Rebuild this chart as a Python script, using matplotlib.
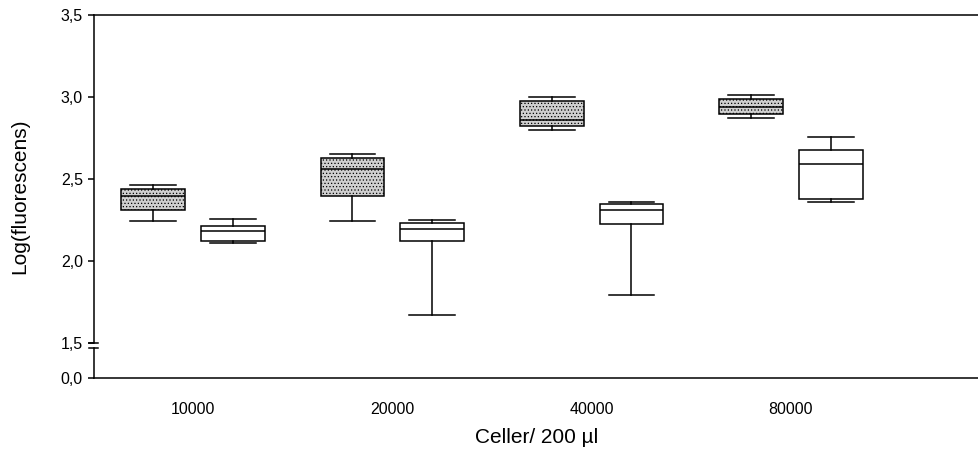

# Boxplot of log(fluorescens) per cell count, two series per group,
# with a broken y axis between 0,0 and 1,5

import matplotlib
matplotlib.use('Agg')
import matplotlib.pyplot as plt

plt.rcParams['font.family'] = ['Liberation Sans', 'DejaVu Sans']
plt.rcParams['hatch.color'] = '#b2b2b2'
plt.rcParams['hatch.linewidth'] = 0.5

# data: whisker low, Q1, median, Q3, whisker high
groups = ['10000', '20000', '40000', '80000']
grey_low = [2.246, 2.248, 2.799, 2.874]
grey_q1 = [2.313, 2.396, 2.823, 2.900]
grey_med = [2.398, 2.561, 2.860, 2.939]
grey_q3 = [2.439, 2.632, 2.976, 2.990]
grey_high = [2.463, 2.652, 3.004, 3.012]

white_low = [2.110, 1.673, 1.793, 2.360]
white_q1 = [2.126, 2.126, 2.227, 2.380]
white_med = [2.183, 2.197, 2.313, 2.595]
white_q3 = [2.217, 2.235, 2.349, 2.677]
white_high = [2.258, 2.252, 2.362, 2.760]

ytick_vals = [1.5, 2.0, 2.5, 3.0, 3.5]
ytick_labels = ['1,5', '2,0', '2,5', '3,0', '3,5']

# where 0,0 sits on the compressed part of the axis
ZERO_POS = 1.288
BREAK_LOW = 1.47
linecolor = 'black'


def make_stats(low, q1, med, q3, high):
    stats = []
    for a, b, c, d, e in zip(low, q1, med, q3, high):
        stats.append({'whislo': a, 'q1': b, 'med': c, 'q3': d, 'whishi': e, 'fliers': []})
    return stats


fig = plt.figure(figsize=(9.79, 4.54), dpi=100)
ax = fig.add_axes([94/979, 1 - 378/454, 885/979, (378 - 15.3)/454])

pos = list(range(len(groups)))
lw = 1.1

ax.bxp(make_stats(grey_low, grey_q1, grey_med, grey_q3, grey_high),
       positions=[p - 0.2 for p in pos], widths=0.32, capwidths=0.23,
       patch_artist=True, showfliers=False,
       boxprops=dict(facecolor='#cfcfcf', edgecolor=linecolor, linewidth=lw, hatch='.....'),
       medianprops=dict(color=linecolor, linewidth=lw),
       whiskerprops=dict(color=linecolor, linewidth=lw),
       capprops=dict(color=linecolor, linewidth=lw))

ax.bxp(make_stats(white_low, white_q1, white_med, white_q3, white_high),
       positions=[p + 0.2 for p in pos], widths=0.32, capwidths=0.23,
       patch_artist=True, showfliers=False,
       boxprops=dict(facecolor='white', edgecolor=linecolor, linewidth=lw),
       medianprops=dict(color=linecolor, linewidth=lw),
       whiskerprops=dict(color=linecolor, linewidth=lw),
       capprops=dict(color=linecolor, linewidth=lw))

ax.set_xlim(-0.497, 3.944)
ax.set_ylim(ZERO_POS, 3.5)

ax.set_xticks(pos)
ax.set_xticklabels(groups, fontsize=11.5)
ax.tick_params(axis='x', length=0, pad=17)

ax.set_yticks([ZERO_POS] + ytick_vals)
ax.set_yticklabels(['0,0'] + ytick_labels, fontsize=11.5)
ax.tick_params(axis='y', length=4, width=1.1, pad=4)

# spines: top and bottom full width, no right, left drawn by hand with a break
ax.spines['right'].set_visible(False)
ax.spines['left'].set_visible(False)
ax.spines['top'].set_linewidth(1.1)
ax.spines['bottom'].set_linewidth(1.1)

tr = ax.get_yaxis_transform()
ax.plot([0, 0], [1.5, 3.5], color=linecolor, linewidth=1.1, transform=tr, clip_on=False)
ax.plot([0, 0], [ZERO_POS, BREAK_LOW], color=linecolor, linewidth=1.1, transform=tr, clip_on=False)
d = 4.5 / 885
ax.plot([-d, d], [1.5, 1.5], color=linecolor, linewidth=1.1, transform=tr, clip_on=False)
ax.plot([-d, d], [BREAK_LOW, BREAK_LOW], color=linecolor, linewidth=1.1, transform=tr, clip_on=False)

ax.set_xlabel('Celler/ 200 µl', fontsize=15)
ax.xaxis.set_label_coords(0.5, -0.165)
ax.xaxis.label.set_verticalalignment('center')
ax.set_ylabel('Log(fluorescens)', fontsize=15)
ax.yaxis.set_label_coords(-0.084, 0.5)
ax.yaxis.label.set_verticalalignment('center')

plt.savefig('out.png', dpi=100)
